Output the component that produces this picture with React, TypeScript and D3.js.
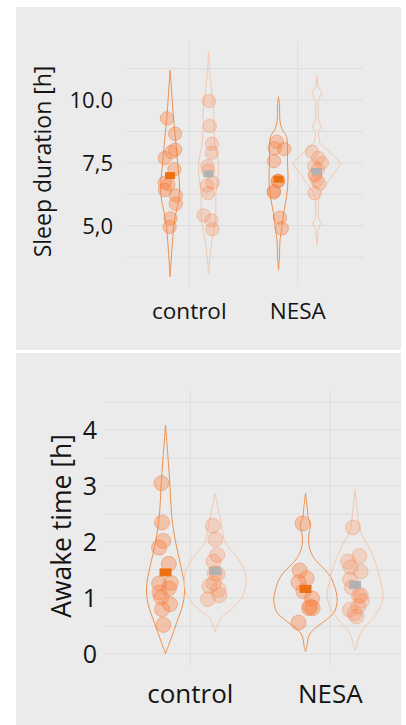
import React from "react";
import * as d3 from "d3";

// Categories on the x axis
const groups = ["control", "NESA"];

// Sleep duration [h] — two measurements per group (A = first, B = second)
const sleepControlA = [9.27, 8.66, 7.93, 8.02, 7.69, 7.25, 6.64, 6.71, 6.42, 6.2, 5.87, 5.29, 4.95];
const sleepControlB = [9.96, 8.97, 8.26, 7.9, 7.37, 7.2, 6.72, 6.6, 6.29, 5.41, 5.21, 4.86];
const sleepNesaA = [8.34, 8.08, 8.05, 7.57, 6.78, 6.78, 6.38, 6.32, 5.32, 4.89];
const sleepNesaB = [7.94, 7.7, 7.5, 7.37, 7.24, 7.02, 7.0, 6.8, 6.68, 6.29];

// Awake time [h]
const awakeControlA = [3.05, 2.35, 2.02, 1.9, 1.61, 1.27, 1.26, 1.17, 1.1, 1.01, 0.89, 0.8, 0.52];
const awakeControlB = [2.29, 2.05, 1.77, 1.65, 1.44, 1.43, 1.26, 1.21, 1.15, 1.05, 0.98];
const awakeNesaA = [2.33, 1.49, 1.35, 1.28, 1.12, 0.99, 0.85, 0.82, 0.82, 0.56];
const awakeNesaB = [2.26, 1.75, 1.65, 1.55, 1.47, 1.33, 1.19, 1.05, 1.04, 0.95, 0.85, 0.79, 0.73, 0.67];

// Violin density profiles: [value, density]
const sleepDensControlA: [number, number][] = [
  [11.19, 0], [10.5, 1.2], [9.73, 2.5], [9.0, 4], [8.41, 5.5], [7.5, 7.5], [6.42, 9.5],
  [5.8, 7.5], [5.36, 5], [4.9, 3.5], [4.43, 2.5], [3.6, 1], [2.97, 0],
];
const sleepDensControlB: [number, number][] = [
  [11.9, 0], [11.06, 1.2], [10.4, 3], [9.73, 5], [8.41, 6], [7.35, 10], [6.29, 7.5],
  [5.22, 7], [4.43, 3.5], [3.7, 1.2], [3.1, 0],
];
const sleepDensNesaA: [number, number][] = [
  [10.13, 0], [9.8, 1], [9.14, 1.5], [8.8, 4], [8.54, 8], [7.48, 9], [6.82, 9.5],
  [6.15, 8], [5.49, 5], [4.96, 3.5], [4.43, 1.5], [3.8, 1], [3.23, 0],
];
const sleepDensNesaB: [number, number][] = [
  [10.93, 0], [10.53, 1.2], [10.27, 5], [9.95, 1.2], [9.6, 1.2], [9.2, 1.5], [8.94, 4.3],
  [8.7, 1.3], [8.28, 3], [7.5, 24.5], [6.3, 3], [6.0, 1.5], [5.6, 1.3], [5.3, 1.5],
  [5.09, 4], [4.85, 1.3], [4.23, 0],
];

const awakeDensControlA: [number, number][] = [
  [4.09, 0], [3.5, 2.5], [3.0, 4.5], [2.5, 6], [2.0, 10], [1.6, 15], [1.2, 19],
  [0.9, 17.5], [0.55, 11], [0.25, 5], [0.01, 0],
];
const awakeDensControlB: [number, number][] = [
  [2.87, 0], [2.6, 3], [2.3, 6.5], [2.0, 10], [1.85, 16], [1.7, 23], [1.5, 29], [1.32, 31],
  [1.1, 29], [0.9, 22], [0.75, 13], [0.65, 6], [0.5, 2], [0.4, 0],
];
const awakeDensNesaA: [number, number][] = [
  [2.87, 0], [2.6, 1.8], [2.45, 2.5], [2.33, 5], [2.2, 4], [2.05, 3], [1.86, 4.5], [1.7, 9],
  [1.62, 13], [1.38, 25], [1.15, 30], [0.96, 31.7], [0.8, 30], [0.73, 28], [0.6, 20],
  [0.49, 11.7], [0.4, 6], [0.31, 3], [0.15, 1.5], [0.04, 0],
];
const awakeDensNesaB: [number, number][] = [
  [2.93, 0], [2.7, 1.5], [2.51, 2.5], [2.3, 4], [2.16, 6], [1.86, 15], [1.56, 21.7],
  [1.3, 25.5], [1.05, 28], [0.79, 24], [0.6, 16], [0.49, 10], [0.31, 4], [0.15, 1.5],
  [0.07, 0],
];

// Axis ticks
const sleepGrid = [3.75, 5, 6.25, 7.5, 8.75, 10, 11.25];
const sleepTicks = [5, 7.5, 10];
const sleepTickLabels = ["5,0", "7,5", "10.0"];
const awakeGrid = [0, 0.5, 1, 1.5, 2, 2.5, 3, 3.5, 4, 4.5];
const awakeTicks = [0, 1, 2, 3, 4];
const awakeTickLabels = ["0", "1", "2", "3", "4"];

const ORANGE = "#ec7014";
const GRAY = "#b2b2b2";
const BG = "#ebebeb";
const GRID = "#dddddd";
const INK = "#141414";
const FONT = "'Open Sans', Lato, sans-serif";

interface Series {
  values: number[];
  density: [number, number][];
  second: boolean;
  curve: d3.CurveFactory;
}

interface PanelProps {
  bgY: [number, number];
  yDomain: [number, number];
  yRange: [number, number];
  xRange: [number, number];
  gridX: [number, number];
  gridVals: number[];
  ticks: number[];
  tickLabels: string[];
  tickRight: number;
  tickSize: number;
  title: string;
  titleX: number;
  titleY: number;
  titleSize: number;
  catBaseline: number;
  catSize: number;
  densMax: number;
  widthMax: number;
  radius: number;
  sq: [number, number];
  series: Series[][];
  seed: number;
}

function Panel(p: PanelProps) {
  const y = d3.scaleLinear().domain(p.yDomain).range(p.yRange);
  const x = d3.scalePoint<string>().domain(groups).range(p.xRange);
  const step = x.step();
  const sub = step * 0.177;
  const w = d3.scaleLinear().domain([0, p.densMax]).range([0, p.widthMax]);
  const rng = d3.randomLcg(p.seed);
  const jitterAmp = step * 0.055;

  const marks: React.ReactNode[] = [];
  const means: React.ReactNode[] = [];

  groups.forEach((g, gi) => {
    p.series[gi].forEach((s, si) => {
      const cx = (x(g) as number) + (si === 0 ? -sub : sub);
      const area = d3
        .area<[number, number]>()
        .y((d) => y(d[0]))
        .x0((d) => cx - w(d[1]))
        .x1((d) => cx + w(d[1]))
        .curve(s.curve);
      marks.push(
        <path
          key={`v-${gi}-${si}`}
          d={area(s.density) || ""}
          fill="none"
          stroke={s.second ? "#f4c8ae" : "#ee914f"}
          strokeWidth={1}
        />
      );
      s.values.forEach((v, vi) => {
        const jx = (rng() - 0.5) * 2 * jitterAmp;
        marks.push(
          <circle
            key={`c-${gi}-${si}-${vi}`}
            cx={cx + jx}
            cy={y(v)}
            r={p.radius}
            fill={s.second ? "rgba(252,140,85,0.28)" : "rgba(252,135,75,0.4)"}
            stroke={s.second ? "rgba(240,130,70,0.3)" : "rgba(238,125,60,0.45)"}
            strokeWidth={1}
          />
        );
      });
      const m = d3.mean(s.values) as number;
      means.push(
        <rect
          key={`m-${gi}-${si}`}
          x={cx - p.sq[0] / 2}
          y={y(m) - p.sq[1] / 2}
          width={p.sq[0]}
          height={p.sq[1]}
          fill={s.second ? GRAY : ORANGE}
        />
      );
    });
  });

  return (
    <g>
      <rect x={16} y={p.bgY[0]} width={385} height={p.bgY[1] - p.bgY[0]} fill={BG} />
      {p.gridVals.map((v) => (
        <line key={`gh-${v}`} x1={p.gridX[0]} x2={p.gridX[1]} y1={y(v)} y2={y(v)} stroke={GRID} strokeWidth={1} />
      ))}
      {groups.map((g) => (
        <line key={`gv-${g}`} x1={x(g)} x2={x(g)} y1={p.yRange[0]} y2={p.yRange[1]} stroke={GRID} strokeWidth={1} />
      ))}
      {marks}
      {means}
      {p.ticks.map((t, i) => (
        <text
          key={`t-${t}`}
          x={p.tickRight}
          y={y(t)}
          dy="0.36em"
          textAnchor="end"
          fontFamily={FONT}
          fontSize={p.tickSize}
          fill={INK}
        >
          {p.tickLabels[i]}
        </text>
      ))}
      {groups.map((g) => (
        <text
          key={`cat-${g}`}
          x={x(g)}
          y={p.catBaseline}
          textAnchor="middle"
          fontFamily={FONT}
          fontSize={p.catSize}
          fill={INK}
        >
          {g}
        </text>
      ))}
      <text
        transform={`translate(${p.titleX},${p.titleY}) rotate(-90)`}
        textAnchor="middle"
        fontFamily={FONT}
        fontSize={p.titleSize}
        fill={INK}
      >
        {p.title}
      </text>
    </g>
  );
}

export default function App() {
  const smooth = d3.curveCatmullRom.alpha(0.5);
  return (
    <svg
      width={406}
      height={725}
      style={{ position: "absolute", left: 0, top: 0, background: "#ffffff" }}
    >
      <Panel
        bgY={[7, 350]}
        yDomain={[2.61, 12.35]}
        yRange={[285.7, 41]}
        xRange={[189.3, 297.7]}
        gridX={[126, 363]}
        gridVals={sleepGrid}
        ticks={sleepTicks}
        tickLabels={sleepTickLabels}
        tickRight={113}
        tickSize={22}
        title="Sleep duration [h]"
        titleX={51}
        titleY={161.5}
        titleSize={23}
        catBaseline={319}
        catSize={22.5}
        densMax={25}
        widthMax={25}
        radius={6.7}
        sq={[10, 7]}
        seed={7}
        series={[
          [
            { values: sleepControlA, density: sleepDensControlA, second: false, curve: smooth },
            { values: sleepControlB, density: sleepDensControlB, second: true, curve: smooth },
          ],
          [
            { values: sleepNesaA, density: sleepDensNesaA, second: false, curve: smooth },
            { values: sleepNesaB, density: sleepDensNesaB, second: true, curve: d3.curveLinear },
          ],
        ]}
      />
      <Panel
        bgY={[353, 725]}
        yDomain={[-0.196, 4.714]}
        yRange={[665, 390]}
        xRange={[190.3, 330.3]}
        gridX={[106, 401]}
        gridVals={awakeGrid}
        ticks={awakeTicks}
        tickLabels={awakeTickLabels}
        tickRight={97}
        tickSize={25}
        title="Awake time [h]"
        titleX={71}
        titleY={526}
        titleSize={26.5}
        catBaseline={703}
        catSize={26}
        densMax={31}
        widthMax={31}
        radius={7.5}
        sq={[12, 8]}
        seed={11}
        series={[
          [
            { values: awakeControlA, density: awakeDensControlA, second: false, curve: smooth },
            { values: awakeControlB, density: awakeDensControlB, second: true, curve: smooth },
          ],
          [
            { values: awakeNesaA, density: awakeDensNesaA, second: false, curve: smooth },
            { values: awakeNesaB, density: awakeDensNesaB, second: true, curve: smooth },
          ],
        ]}
      />
    </svg>
  );
}
